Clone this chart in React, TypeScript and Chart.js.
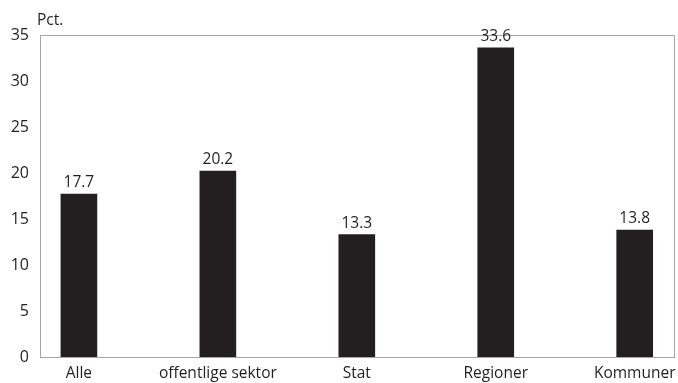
import React, { useEffect, useRef } from "react";
import { Chart, registerables } from "chart.js";

Chart.register(...registerables);

const categories = ["Alle", "offentlige sektor", "Stat", "Regioner", "Kommuner"];
const values = [17.7, 20.2, 13.3, 33.6, 13.8];
const yTicks = [0, 5, 10, 15, 20, 25, 30, 35];
const unitLabel = "Pct.";

const INK = "#231f20";
const FONT = "'Open Sans', 'Noto Sans', sans-serif";
const Y_TICK_SIZE = 16;
const X_TICK_SIZE = 15.5;
const LABEL_SIZE = 15.5;

const framePlugin = {
  id: "frameAndLabels",
  beforeDatasetsDraw(chart: any) {
    const { ctx, chartArea } = chart;
    ctx.save();
    ctx.strokeStyle = "#a6a6a6";
    ctx.lineWidth = 1;
    ctx.strokeRect(
      Math.round(chartArea.left) + 0.5,
      Math.round(chartArea.top) + 0.5,
      Math.round(chartArea.right - chartArea.left) - 1,
      Math.round(chartArea.bottom - chartArea.top)
    );
    ctx.restore();
  },
  afterDatasetsDraw(chart: any) {
    const { ctx } = chart;
    const meta = chart.getDatasetMeta(0);
    ctx.save();
    ctx.fillStyle = INK;
    ctx.font = `${LABEL_SIZE}px ${FONT}`;
    ctx.textAlign = "center";
    ctx.textBaseline = "alphabetic";
    meta.data.forEach((bar: any, i: number) => {
      ctx.fillText(values[i].toFixed(1), bar.x, bar.y - 7);
    });
    ctx.textAlign = "left";
    ctx.fillText(unitLabel, 37, 25);
    ctx.restore();
  },
};

export default function App() {
  const canvasRef = useRef<HTMLCanvasElement | null>(null);

  useEffect(() => {
    if (!canvasRef.current) return;
    const chart = new Chart(canvasRef.current, {
      type: "bar",
      data: {
        datasets: [
          {
            data: values.map((v, i) => ({ x: i, y: v })),
            backgroundColor: INK,
            barThickness: 36,
          },
        ],
      },
      options: {
        animation: false,
        responsive: false,
        devicePixelRatio: 1,
        layout: { padding: { left: 0, top: 35, right: 3, bottom: 0 } },
        plugins: {
          legend: { display: false },
          tooltip: { enabled: false },
        },
        scales: {
          x: {
            type: "linear",
            offset: false,
            min: -0.28,
            max: 4.29,
            grid: { display: false, drawTicks: false },
            border: { display: false },
            afterBuildTicks: (scale: any) => {
              scale.ticks = categories.map((_, i) => ({ value: i }));
            },
            afterFit: (scale: any) => {
              scale.height = 26;
              scale.paddingLeft = 0;
              scale.paddingRight = 0;
            },
            ticks: {
              autoSkip: false,
              maxRotation: 0,
              padding: 7,
              color: INK,
              font: { family: FONT, size: X_TICK_SIZE },
              callback: (v: any) => categories[Number(v)] ?? "",
            },
          },
          y: {
            min: 0,
            max: 35,
            grid: { display: false, drawTicks: false },
            border: { display: false },
            afterBuildTicks: (scale: any) => {
              scale.ticks = yTicks.map((v) => ({ value: v }));
            },
            afterFit: (scale: any) => {
              scale.width = 40;
              scale.paddingTop = 0;
              scale.paddingBottom = 0;
            },
            ticks: {
              padding: 11,
              color: INK,
              font: { family: FONT, size: Y_TICK_SIZE },
            },
          },
        },
      },
      plugins: [framePlugin],
    });
    return () => chart.destroy();
  }, []);

  return (
    <div style={{ position: "fixed", left: 0, top: 0, width: 678, height: 383, background: "#fff" }}>
      <canvas ref={canvasRef} width={678} height={383} />
    </div>
  );
}
